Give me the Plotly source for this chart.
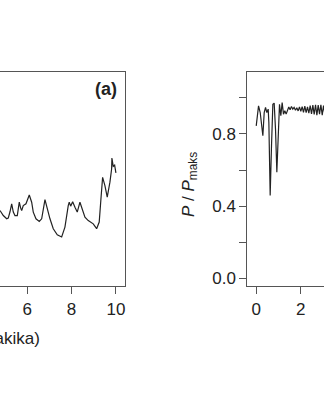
import plotly.graph_objects as go

# Panel (a): normalised power vs time (minutes), visible stretch
a_t = [4.770, 4.919, 5.072, 5.142, 5.221, 5.297, 5.370, 5.446, 5.550, 5.640,
       5.703, 5.748, 5.820, 5.942, 6.091, 6.199, 6.271, 6.393, 6.542, 6.650,
       6.799, 6.903, 7.024, 7.173, 7.354, 7.552, 7.700, 7.849, 7.894, 7.958,
       8.048, 8.152, 8.255, 8.377, 8.454, 8.603, 8.752, 8.977, 9.130, 9.247,
       9.324, 9.400, 9.504, 9.608, 9.730, 9.806, 9.820, 9.879, 9.942, 10.000]
a_p = [0.376, 0.348, 0.330, 0.334, 0.369, 0.413, 0.367, 0.348, 0.348, 0.422,
       0.389, 0.376, 0.403, 0.413, 0.462, 0.422, 0.367, 0.330, 0.315, 0.330,
       0.436, 0.385, 0.330, 0.275, 0.241, 0.229, 0.284, 0.403, 0.422, 0.400,
       0.425, 0.394, 0.367, 0.422, 0.394, 0.339, 0.320, 0.302, 0.275, 0.312,
       0.440, 0.560, 0.514, 0.450, 0.533, 0.606, 0.667, 0.621, 0.627, 0.584]

# Panel (b): P / P_maks vs time (minutes)
b_t = [0.000, 0.060, 0.104, 0.179, 0.254, 0.298, 0.358, 0.418, 0.477, 0.537,
       0.567, 0.626, 0.686, 0.746, 0.805, 0.865, 0.925, 0.984, 1.044, 1.104,
       1.163, 1.223, 1.283, 1.342, 1.402, 1.46, 1.52, 1.58, 1.64, 1.70,
       1.76, 1.82, 1.88, 1.94, 2.00, 2.06, 2.12, 2.18, 2.24, 2.30,
       2.36, 2.42, 2.48, 2.54, 2.60, 2.66, 2.72, 2.78, 2.84, 2.90,
       2.96, 3.02, 3.08]
b_p = [0.845, 0.919, 0.956, 0.919, 0.827, 0.790, 0.919, 0.947, 0.919, 0.938,
       0.864, 0.459, 0.735, 0.965, 0.971, 0.827, 0.588, 0.827, 0.965, 0.901,
       0.974, 0.910, 0.929, 0.910, 0.937, 0.950, 0.935, 0.952, 0.938, 0.948,
       0.932, 0.945, 0.928, 0.950, 0.925, 0.952, 0.920, 0.955, 0.918, 0.950,
       0.915, 0.958, 0.912, 0.960, 0.908, 0.962, 0.905, 0.960, 0.910, 0.962,
       0.905, 0.958, 0.910]

x_ticks = [0, 2, 4, 6, 8, 10]
y_ticks = [0.0, 0.2, 0.4, 0.6, 0.8, 1.0]
y_ticktext = ["0.0", "", "0.4", "", "0.8", ""]

W, H = 324, 400
FONT = "Liberation Sans, Arial, Helvetica, sans-serif"
AXC = "#555555"
INK = "#222222"

fig = go.Figure()
fig.add_trace(go.Scatter(x=a_t, y=a_p, mode="lines", xaxis="x", yaxis="y",
                         line=dict(color=INK, width=1.2), showlegend=False))
fig.add_trace(go.Scatter(x=b_t, y=b_p, mode="lines", xaxis="x2", yaxis="y2",
                         line=dict(color=INK, width=1.2), showlegend=False))

y_dom = [(H - 287.7) / H, (H - 72.3) / H]
tickfont = dict(family=FONT, size=17, color=INK)

common_x = dict(showgrid=False, zeroline=False, showline=True, mirror=True,
                linecolor=AXC, linewidth=1, ticks="outside", ticklen=7,
                tickwidth=1, tickcolor=AXC, tickvals=x_ticks, tickfont=tickfont)

fig.update_layout(
    width=W, height=H,
    margin=dict(l=0, r=0, t=0, b=0),
    paper_bgcolor="white", plot_bgcolor="white",
    xaxis=dict(domain=[0, 125 / W], range=[4.77, 10.41], anchor="y", **common_x),
    yaxis=dict(domain=y_dom, range=[-0.044, 1.144], anchor="x", side="right",
               showgrid=False, zeroline=False, showline=True, linecolor=AXC,
               linewidth=1, ticks="", showticklabels=False),
    xaxis2=dict(domain=[247.3 / W, 1], range=[-0.4, 3.04], anchor="y2", **common_x),
    yaxis2=dict(domain=y_dom, range=[-0.044, 1.144], anchor="x2",
                showgrid=False, zeroline=False, showline=True, linecolor=AXC,
                linewidth=1, ticks="outside", ticklen=7, tickwidth=1,
                tickcolor=AXC, tickvals=y_ticks, ticktext=y_ticktext,
                tickfont=tickfont),
    annotations=[
        dict(text="<b>(a)</b>", xref="paper", yref="paper",
             x=119 / W, y=(H - 89) / H, xanchor="right", yanchor="middle",
             showarrow=False, font=dict(family=FONT, size=18, color=INK)),
        dict(text="<i>t</i> (dakika)", xref="paper", yref="paper",
             x=42 / W, y=(H - 340) / H, xanchor="right", yanchor="middle",
             showarrow=False, font=dict(family=FONT, size=17, color=INK)),
        dict(text="<i>P</i> / <i>P</i><sub>maks</sub>", xref="paper", yref="paper",
             x=190 / W, y=(H - 186) / H, xanchor="center", yanchor="middle",
             textangle=-90, showarrow=False,
             font=dict(family=FONT, size=17, color=INK)),
    ],
)

fig.write_html("out.html")
